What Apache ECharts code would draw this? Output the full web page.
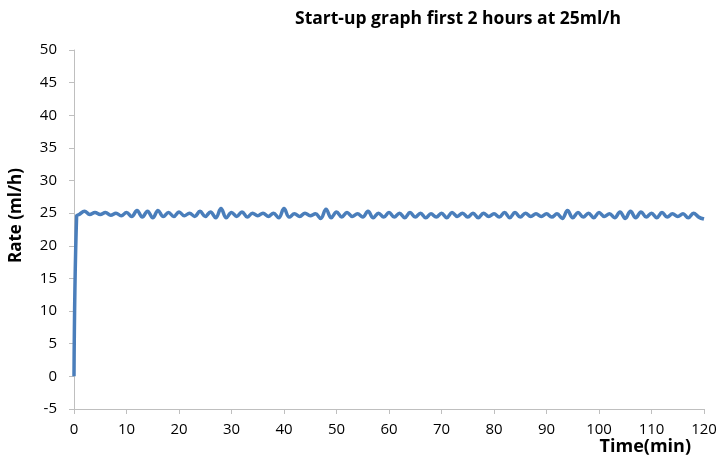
<!DOCTYPE html>
<html>
<head>
<meta charset="utf-8">
<script src="https://cdn.jsdelivr.net/npm/echarts@6/dist/echarts.min.js"></script>
<style>
  html, body { margin: 0; padding: 0; background: #fff; }
  #chart { width: 723px; height: 462px; }
</style>
</head>
<body>
<div id="chart"></div>
<script>
// time in minutes, rate in ml/h
var times = [0, 0.5, 1, 2, 3, 4, 5, 6, 7, 8, 9, 10, 11, 12, 13, 14, 15, 16, 17, 18, 19, 20,
  21, 22, 23, 24, 25, 26, 27, 28, 29, 30, 31, 32, 33, 34, 35, 36, 37, 38, 39, 40,
  41, 42, 43, 44, 45, 46, 47, 48, 49, 50, 51, 52, 53, 54, 55, 56, 57, 58, 59, 60,
  61, 62, 63, 64, 65, 66, 67, 68, 69, 70, 71, 72, 73, 74, 75, 76, 77, 78, 79, 80,
  81, 82, 83, 84, 85, 86, 87, 88, 89, 90, 91, 92, 93, 94, 95, 96, 97, 98, 99, 100,
  101, 102, 103, 104, 105, 106, 107, 108, 109, 110, 111, 112, 113, 114, 115, 116, 117, 118, 119, 120];
var rates = [0, 24.6, 24.8, 25.3, 24.8, 25.1, 24.8, 25.1, 24.7, 25.0, 24.6, 25.1, 24.5, 25.4, 24.4, 25.3, 24.3, 25.4, 24.5, 25.1, 24.5, 25.2,
  24.6, 25.0, 24.5, 25.3, 24.5, 25.2, 24.3, 25.7, 24.3, 25.1, 24.5, 25.2, 24.4, 25.0, 24.6, 25.0, 24.5, 25.0, 24.3, 25.7,
  24.4, 24.9, 24.5, 25.0, 24.6, 24.9, 24.2, 25.6, 24.3, 25.2, 24.4, 25.1, 24.5, 24.9, 24.4, 25.3, 24.3, 25.0, 24.4, 25.1,
  24.4, 25.0, 24.3, 25.1, 24.4, 25.0, 24.3, 24.9, 24.4, 25.0, 24.3, 25.1, 24.5, 25.0, 24.4, 25.0, 24.3, 25.0, 24.5, 24.9,
  24.4, 25.1, 24.3, 25.1, 24.4, 25.0, 24.5, 24.9, 24.5, 24.9, 24.4, 24.9, 24.2, 25.4, 24.3, 25.1, 24.4, 25.0, 24.3, 25.1,
  24.5, 24.9, 24.3, 25.2, 24.2, 25.3, 24.3, 25.2, 24.4, 25.0, 24.3, 25.1, 24.4, 24.9, 24.5, 24.9, 24.3, 25.0, 24.4, 24.1];

var chart = echarts.init(document.getElementById('chart'));

var points = times.map(function (t, i) { return [t, rates[i]]; });

var option = {
  animation: false,
  title: {
    text: 'Start-up graph first 2 hours at 25ml/h',
    left: 290,
    top: 5,
    textStyle: { fontFamily: 'Open Sans', fontWeight: 'bold', fontSize: 17.5, color: '#000' }
  },
  graphic: [{
    type: 'text',
    right: 32,
    top: 438,
    style: { text: 'Time(min)', font: 'bold 18px "Open Sans"', fill: '#000' }
  }, {
    type: 'text',
    x: 8,
    y: 263,
    rotation: Math.PI / 2,
    style: { text: 'Rate (ml/h)', font: 'bold 17px "Open Sans"', fill: '#000' }
  }],
  grid: { left: 74, right: 19, top: 50, bottom: 53 },
  xAxis: {
    type: 'value',
    min: 0, max: 120, interval: 10,
    axisLine: { onZero: false, lineStyle: { color: '#bfbfbf', width: 1 } },
    axisTick: { show: true, length: 5, lineStyle: { color: '#bfbfbf' } },
    axisLabel: { color: '#000', fontSize: 15, fontFamily: 'Open Sans', margin: 13 },
    splitLine: { show: false }
  },
  yAxis: {
    type: 'value',
    min: -5, max: 50, interval: 5,
    axisLine: { show: true, lineStyle: { color: '#bfbfbf', width: 1 } },
    axisTick: { show: true, length: 5, lineStyle: { color: '#bfbfbf' } },
    axisLabel: { color: '#000', fontSize: 15, fontFamily: 'Open Sans', margin: 17 },
    splitLine: { show: false }
  },
  series: [{
    type: 'line',
    data: points,
    smooth: 0.4,
    showSymbol: false,
    lineStyle: { color: '#4a7ebb', width: 3.5 },
    itemStyle: { color: '#4a7ebb' }
  }]
};

chart.setOption(option);
</script>
</body>
</html>
